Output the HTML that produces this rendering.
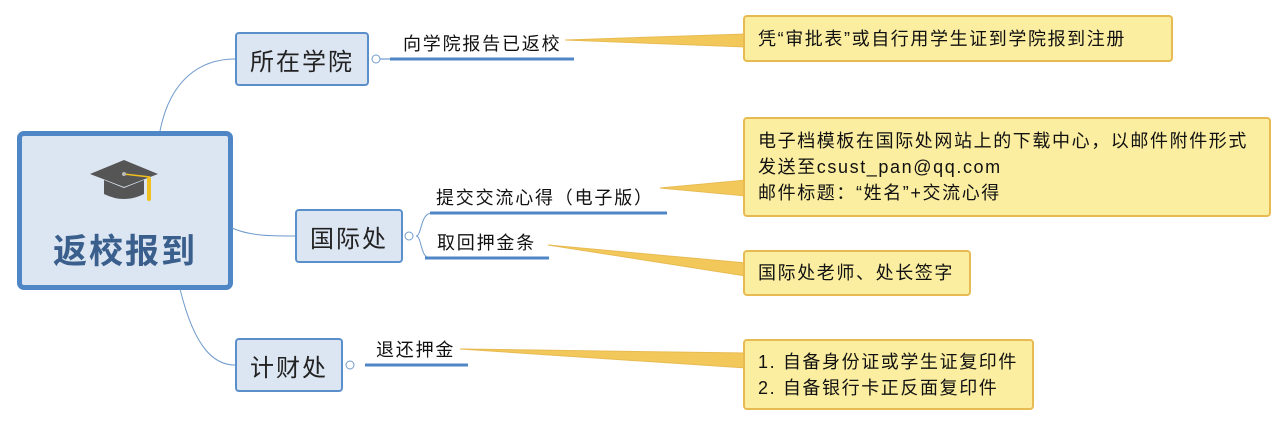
<!DOCTYPE html>
<html><head><meta charset="utf-8"><style>
body{margin:0;width:1288px;height:427px;background:#fff;position:relative;overflow:hidden;font-family:"Liberation Sans","Noto Sans CJK SC",sans-serif;}
.a{position:absolute;box-sizing:border-box;}
.n{background:#dce6f2;border:2px solid #5b8fcc;border-radius:4px;font-size:24px;letter-spacing:2px;color:#222;display:flex;align-items:center;justify-content:center;}
.c{background:#fbeea0;border:2px solid #e8bb52;border-radius:4px;font-size:18px;letter-spacing:1.6px;color:#111;padding:0 13px;line-height:26px;display:flex;flex-direction:column;justify-content:center;white-space:nowrap;}
.t{font-size:18px;letter-spacing:1.8px;color:#111;white-space:nowrap;}
</style></head><body>
<div class="a" style="left:17px;top:131px;width:216px;height:159px;border:5px solid #4f86c6;border-radius:7px;background:#dce6f2;"></div>
<svg class="a" style="left:0;top:0" width="1288" height="427">
<g fill="none" stroke="#6f9acb" stroke-width="1">
<path d="M160 131 C170 80,200 59,235 59"/>
<path d="M232 228 C250 236,270 236,295 236"/>
<path d="M180 289 C195 350,215 365,235 365"/>
<path d="M416 236 C422 236,420 213,432 213"/>
<path d="M416 236 C422 236,420 258,430 258"/>
</g>
<g stroke="#4f86c6" stroke-width="3">
<line x1="390" y1="59" x2="574" y2="59"/>
<line x1="430" y1="213" x2="667" y2="213"/>
<line x1="425" y1="258" x2="549" y2="258"/>
<line x1="365" y1="365" x2="468" y2="365"/>
<line x1="380" y1="59" x2="390" y2="59" stroke-width="1"/>
</g>
<g fill="#fff" stroke="#6f9acb"><circle cx="376" cy="59" r="4"/><circle cx="409" cy="236" r="4"/><circle cx="350" cy="365" r="4"/></g>
<g fill="#f2c85a" stroke="#e8bb52">
<polygon points="565,40 746,34 746,47"/>
<polygon points="660,188 746,180 746,196"/>
<polygon points="548,245 746,263 746,276"/>
<polygon points="460,349 746,353 746,368"/>
</g>
<g transform="translate(90,160)">
<polygon points="0,14 34,0 68,14 34,27" fill="#555"/>
<path d="M14 20 L14 34 Q34 44 54 34 L54 20 L34 28 Z" fill="#555"/>
<line x1="34" y1="14" x2="60" y2="17" stroke="#f0c020" stroke-width="1.5"/>
<rect x="57" y="17" width="4" height="24" rx="2" fill="#f0c020"/>
<circle cx="34" cy="14" r="2" fill="#bbb"/>
</g>
</svg>
<div class="a" style="left:17px;top:224px;width:216px;text-align:center;font-size:34px;letter-spacing:2px;font-weight:bold;color:#3b5f8c;">返校报到</div>
<div class="a n" style="left:235px;top:32px;width:134px;height:54px;">所在学院</div>
<div class="a n" style="left:295px;top:209px;width:108px;height:54px;">国际处</div>
<div class="a n" style="left:235px;top:338px;width:108px;height:54px;">计财处</div>
<div class="a t" style="left:403px;top:30px;">向学院报告已返校</div>
<div class="a t" style="left:436px;top:184px;">提交交流心得（电子版）</div>
<div class="a t" style="left:437px;top:229px;">取回押金条</div>
<div class="a t" style="left:376px;top:336px;">退还押金</div>
<div class="a c" style="left:743px;top:15px;width:430px;height:47px;">凭“审批表”或自行用学生证到学院报到注册</div>
<div class="a c" style="left:743px;top:117px;width:528px;height:100px;"><div>电子档模板在国际处网站上的下载中心，以邮件附件形式</div><div>发送至csust_pan@qq.com</div><div>邮件标题：“姓名”+交流心得</div></div>
<div class="a c" style="left:743px;top:250px;width:228px;height:46px;">国际处老师、处长签字</div>
<div class="a c" style="left:743px;top:339px;width:291px;height:71px;"><div>1. 自备身份证或学生证复印件</div><div>2. 自备银行卡正反面复印件</div></div>
</body></html>
